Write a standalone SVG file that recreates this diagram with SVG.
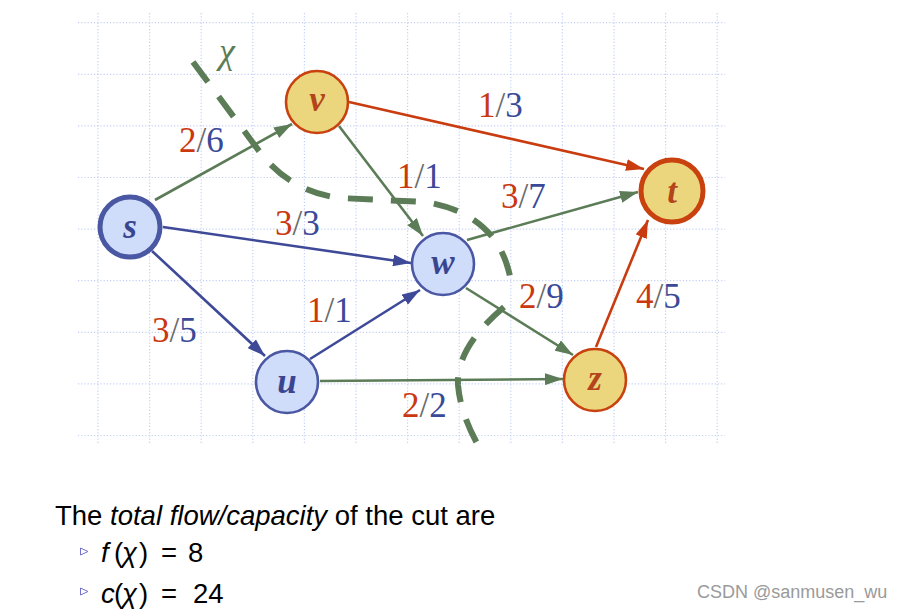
<svg xmlns="http://www.w3.org/2000/svg" width="907" height="612" viewBox="0 0 907 612">
<style>
.grid line{stroke:#c3cff5;stroke-width:1.2;stroke-dasharray:1.2 2}
.e{fill:none;stroke-width:2.6}
.eg{stroke:#5b7c56}
.eb{stroke:#3e4a98}
.er{stroke:#c93c10}
.nb{fill:#cfdcfa;stroke:#4a57a2;stroke-width:2.6}
.ny{fill:#ebd67d;stroke:#c8410f;stroke-width:2.6}
.thick{stroke-width:5}
.nl{font-family:"Liberation Serif",serif;font-style:italic;font-weight:bold;font-size:35px;text-anchor:middle}
.nlb{fill:#3a4590}
.nly{fill:#b4441a}
.lbl{font-family:"Liberation Serif",serif;font-size:35px}
.r{fill:#c9380f}
.g{fill:#6a6a6a}
.b{fill:#3b4a98}
.txt{font-family:"Liberation Sans",Arial,sans-serif;font-size:27.5px;fill:#000}
.it{font-style:italic}
.cut{fill:none;stroke:#5b7c56;stroke-width:6;stroke-dasharray:25 18}
</style>
<defs>
<marker id="ag" viewBox="0 0 18 12" refX="18" refY="6" markerWidth="18" markerHeight="12" markerUnits="userSpaceOnUse" orient="auto"><path d="M0,0 L18,6 L0,12 Z" fill="#5b7c56"/></marker>
<marker id="ab" viewBox="0 0 18 12" refX="18" refY="6" markerWidth="18" markerHeight="12" markerUnits="userSpaceOnUse" orient="auto"><path d="M0,0 L18,6 L0,12 Z" fill="#3e4a98"/></marker>
<marker id="ar" viewBox="0 0 18 12" refX="18" refY="6" markerWidth="18" markerHeight="12" markerUnits="userSpaceOnUse" orient="auto"><path d="M0,0 L18,6 L0,12 Z" fill="#c93c10"/></marker>
<clipPath id="clipcut"><rect x="0" y="0" width="907" height="446"/></clipPath>
</defs>
<rect width="907" height="612" fill="#ffffff"/>
<g class="grid">
<line x1="98" y1="13" x2="98" y2="445"/>
<line x1="149.6" y1="13" x2="149.6" y2="445"/>
<line x1="201.2" y1="13" x2="201.2" y2="445"/>
<line x1="252.8" y1="13" x2="252.8" y2="445"/>
<line x1="304.4" y1="13" x2="304.4" y2="445"/>
<line x1="356" y1="13" x2="356" y2="445"/>
<line x1="407.6" y1="13" x2="407.6" y2="445"/>
<line x1="459.2" y1="13" x2="459.2" y2="445"/>
<line x1="510.8" y1="13" x2="510.8" y2="445"/>
<line x1="562.4" y1="13" x2="562.4" y2="445"/>
<line x1="614" y1="13" x2="614" y2="445"/>
<line x1="665.6" y1="13" x2="665.6" y2="445"/>
<line x1="717.2" y1="13" x2="717.2" y2="445"/>
<line x1="78" y1="22.7" x2="725" y2="22.7"/>
<line x1="78" y1="74.3" x2="725" y2="74.3"/>
<line x1="78" y1="125.9" x2="725" y2="125.9"/>
<line x1="78" y1="177.5" x2="725" y2="177.5"/>
<line x1="78" y1="229.1" x2="725" y2="229.1"/>
<line x1="78" y1="280.7" x2="725" y2="280.7"/>
<line x1="78" y1="332.3" x2="725" y2="332.3"/>
<line x1="78" y1="383.9" x2="725" y2="383.9"/>
<line x1="78" y1="435.5" x2="725" y2="435.5"/>
</g>
<g id="cut">
<path class="cut" d="M193,62 L262,155 Q292,192 340,198 L425,202 Q488,212 506,262 Q512,280 512,292"/>
<path class="cut" clip-path="url(#clipcut)" d="M504,307 Q456,348 458,385 Q461,420 486,458"/>
<text x="219" y="63" font-family="Liberation Serif,serif" font-style="italic" font-size="36" fill="#5b7c56">χ</text>
</g>
<g id="connectors">
<line class="e eg" x1="155" y1="200" x2="292" y2="124" marker-end="url(#ag)"/>
<line class="e er" x1="349" y1="102" x2="644" y2="169" marker-end="url(#ar)"/>
<line class="e eg" x1="339" y1="126" x2="423" y2="236" marker-end="url(#ag)"/>
<line class="e eb" x1="163" y1="227" x2="411" y2="263" marker-end="url(#ab)"/>
<line class="e eb" x1="152" y1="251" x2="265" y2="356" marker-end="url(#ab)"/>
<line class="e eb" x1="310" y1="359" x2="420" y2="290" marker-end="url(#ab)"/>
<line class="e eg" x1="320" y1="381" x2="563" y2="379" marker-end="url(#ag)"/>
<line class="e eg" x1="466" y1="288" x2="573" y2="355" marker-end="url(#ag)"/>
<line class="e eg" x1="467" y1="240" x2="638" y2="192" marker-end="url(#ag)"/>
<line class="e er" x1="596" y1="347" x2="648" y2="220" marker-end="url(#ar)"/>
</g>
<g id="labels">
<text class="lbl" x="179" y="152"><tspan class="r">2</tspan><tspan class="g">/</tspan><tspan class="b">6</tspan></text>
<text class="lbl" x="478" y="117"><tspan class="r">1</tspan><tspan class="g">/</tspan><tspan class="b">3</tspan></text>
<text class="lbl" x="397" y="188"><tspan class="r">1</tspan><tspan class="g">/</tspan><tspan class="b">1</tspan></text>
<text class="lbl" x="501" y="208"><tspan class="r">3</tspan><tspan class="g">/</tspan><tspan class="b">7</tspan></text>
<text class="lbl" x="275" y="235"><tspan class="r">3</tspan><tspan class="g">/</tspan><tspan class="b">3</tspan></text>
<text class="lbl" x="307" y="322"><tspan class="r">1</tspan><tspan class="g">/</tspan><tspan class="b">1</tspan></text>
<text class="lbl" x="152" y="342"><tspan class="r">3</tspan><tspan class="g">/</tspan><tspan class="b">5</tspan></text>
<text class="lbl" x="519" y="308"><tspan class="r">2</tspan><tspan class="g">/</tspan><tspan class="b">9</tspan></text>
<text class="lbl" x="636" y="308"><tspan class="r">4</tspan><tspan class="g">/</tspan><tspan class="b">5</tspan></text>
<text class="lbl" x="402" y="417"><tspan class="r">2</tspan><tspan class="g">/</tspan><tspan class="b">2</tspan></text>
</g>
<g id="node-s"><circle class="nb thick" cx="130" cy="227" r="30" stroke="#3f4a96"/><text class="nl nlb" x="130" y="238">s</text></g>
<g id="node-v"><circle class="ny" cx="317" cy="102" r="31"/><text class="nl nly" x="317" y="111">v</text></g>
<g id="node-t"><circle class="ny thick" cx="672" cy="191" r="31"/><text class="nl nly" x="672" y="203">t</text></g>
<g id="node-w"><circle class="nb" cx="443" cy="264" r="31"/><text class="nl nlb" x="443" y="274">w</text></g>
<g id="node-u"><circle class="nb" cx="287" cy="382" r="31"/><text class="nl nlb" x="287" y="393">u</text></g>
<g id="node-z"><circle class="ny" cx="595" cy="380" r="31"/><text class="nl nly" x="595" y="390">z</text></g>
<g id="caption">
<text class="txt" x="55" y="525">The <tspan class="it">total flow/capacity</tspan> of the cut are</text>
<polygon points="80.5,548 88,551.5 80.5,555" fill="none" stroke="#7272d0" stroke-width="1"/>
<text class="txt" y="562"><tspan class="it" x="101">f</tspan><tspan x="114">(</tspan><tspan class="it" x="122">χ</tspan><tspan x="139">)</tspan><tspan x="161">=</tspan><tspan x="188">8</tspan></text>
<polygon points="80.5,588 88,591.5 80.5,595" fill="none" stroke="#7272d0" stroke-width="1"/>
<text class="txt" y="603"><tspan class="it" x="101">c</tspan><tspan x="114">(</tspan><tspan class="it" x="122">χ</tspan><tspan x="139">)</tspan><tspan x="161">=</tspan><tspan x="193">24</tspan></text>
</g>
<text x="697" y="598" font-family="Liberation Sans,Arial,sans-serif" font-size="18" fill="#9a9a9a">CSDN @sanmusen_wu</text>
</svg>
